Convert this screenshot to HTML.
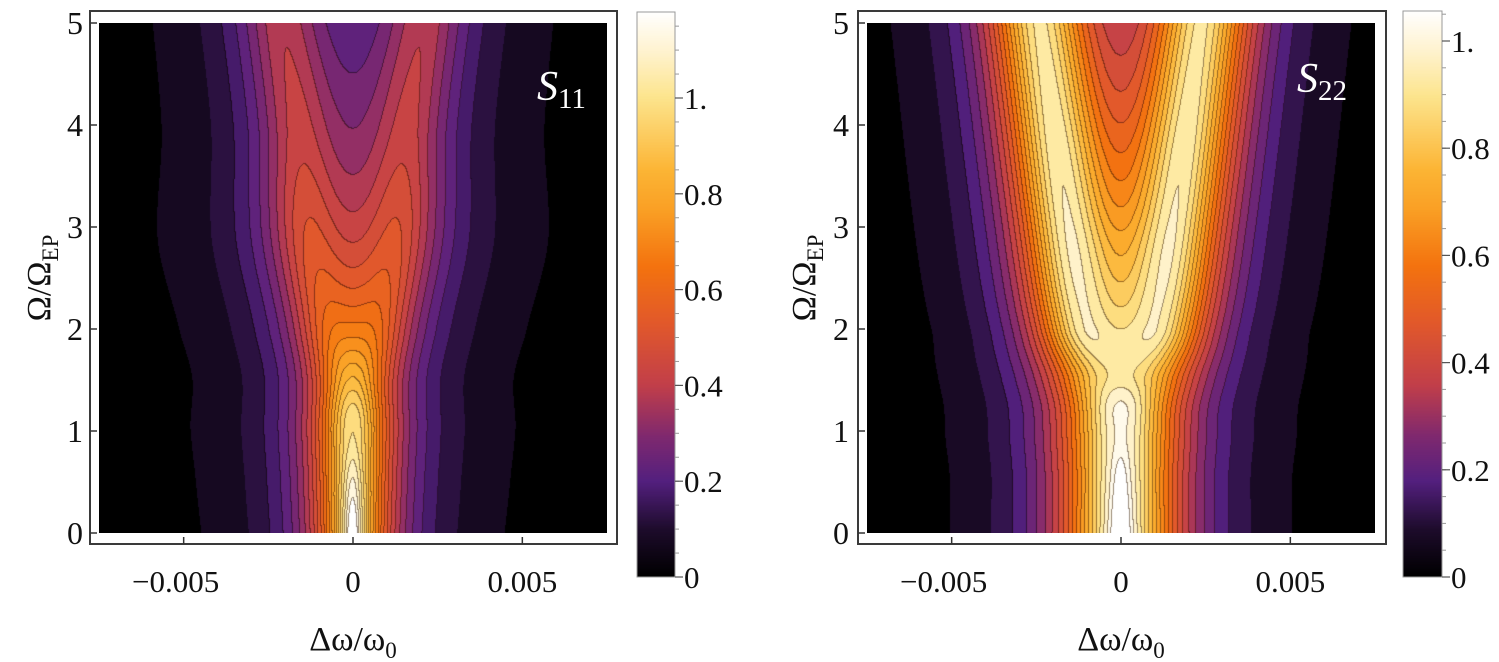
<!DOCTYPE html>
<html><head><meta charset="utf-8">
<style>
html,body{margin:0;padding:0;background:#fff;width:1499px;height:662px;overflow:hidden}
#root{position:relative;width:1499px;height:662px}
canvas{position:absolute;display:block}
svg{position:absolute;left:0;top:0}
text{font-family:"Liberation Serif","Times New Roman",serif;fill:#111}
</style></head>
<body>
<div id="root">
<canvas id="c1" width="508" height="510" style="left:99px;top:23px"></canvas>
<canvas id="c2" width="508" height="510" style="left:867px;top:23px"></canvas>
<canvas id="cb1" width="38" height="565" style="left:637px;top:12px"></canvas>
<canvas id="cb2" width="39" height="566" style="left:1403px;top:11px"></canvas>
<svg id="ov" width="1499" height="662" font-family="Liberation Serif, serif"></svg>
</div>
<script>
// ---- data (x in units of 1e-3 of Δω/ω0) ----
const omegaRows = [0, 0.5, 1, 1.5, 2, 3, 4, 5];
const s11Sep    = [0, 0, 0, 0.3, 0.7, 1.34, 1.65, 2.1];
const s11Width  = [1.05, 1.08, 1.1, 1.13, 1.22, 1.35, 1.35, 1.35];
const s11Amp    = [0.47, 0.48, 0.5, 0.46, 0.445, 0.42, 0.37, 0.36];
const s11Narrow = [0.3, 0.15, 0, 0, 0, 0, 0, 0];
const s11NarrowW= [0.25, 0.3, 0.3, 0.3, 0.3, 0.3, 0.3, 0.3];
const s22Sep    = [0, 0, 0, 0.7, 1.15, 1.6, 2.0, 2.4];
const s22Width  = [2.0, 2.0, 2.05, 2.0, 1.75, 1.75, 1.75, 1.75];
const s22Amp    = [0.5, 0.5, 0.505, 0.55, 0.77, 0.86, 0.88, 0.88];
const s22Narrow = [0.25, 0.12, 0, 0, 0, 0, 0, 0];
const s22NarrowW= [0.2, 0.2, 0.2, 0.2, 0.2, 0.2, 0.2, 0.2];
const s11Max = 1.18, s22Max = 1.056;
const contourStep = 0.05;
const xTicks = [-0.005, 0, 0.005];
const xTickLabels = ["\u22120.005", "0", "0.005"];
const yTicks = [0, 1, 2, 3, 4, 5];
const cbTicks = [0, 0.2, 0.4, 0.6, 0.8, 1.0];
const cbTickLabels = ["0", "0.2", "0.4", "0.6", "0.8", "1."];
const cmapT = [0, 0.085, 0.17, 0.25, 0.34, 0.45, 0.55, 0.65, 0.72, 0.85, 0.93, 1];
const cmapC = ["#000000","#1e0c2c","#54207f","#80296f","#c23f4a","#e2592b","#f4730f","#faa025","#fcb535","#fde58e","#fff3cf","#ffffff"];

function hex(h){return [parseInt(h.substr(1,2),16),parseInt(h.substr(3,2),16),parseInt(h.substr(5,2),16)];}
const cmapRGB = cmapC.map(hex);
function cmap(t){
  if(t<=0) return cmapRGB[0]; if(t>=1) return cmapRGB[cmapRGB.length-1];
  for(let i=1;i<cmapT.length;i++){ if(t<=cmapT[i]){const f=(t-cmapT[i-1])/(cmapT[i]-cmapT[i-1]);const a=cmapRGB[i-1],b=cmapRGB[i];return [a[0]+(b[0]-a[0])*f,a[1]+(b[1]-a[1])*f,a[2]+(b[2]-a[2])*f];}}
  return cmapRGB[cmapRGB.length-1];
}
// smooth (monotone cubic Hermite) interpolation along Ω
function interp(arr, om){
  const n=omegaRows.length;
  if(om<=omegaRows[0]) return arr[0];
  if(om>=omegaRows[n-1]) return arr[n-1];
  let i=1; while(om>omegaRows[i]) i++;
  const x0=omegaRows[i-1],x1=omegaRows[i],h=x1-x0,t=(om-x0)/h;
  const slope=(k)=>{ if(k===0) return (arr[1]-arr[0])/(omegaRows[1]-omegaRows[0]);
    if(k===n-1) return (arr[n-1]-arr[n-2])/(omegaRows[n-1]-omegaRows[n-2]);
    const a=(arr[k]-arr[k-1])/(omegaRows[k]-omegaRows[k-1]), b=(arr[k+1]-arr[k])/(omegaRows[k+1]-omegaRows[k]);
    if(a*b<=0) return 0; return 2/(1/a+1/b); };
  const m0=slope(i-1)*h,m1=slope(i)*h,t2=t*t,t3=t2*t;
  return (2*t3-3*t2+1)*arr[i-1]+(t3-2*t2+t)*m0+(-2*t3+3*t2)*arr[i]+(t3-t2)*m1;
}
function field(x, om, P){
  const d=interp(P.sep,om), w=interp(P.width,om), A=interp(P.amp,om), B=Math.max(0,interp(P.nar,om)), wn=interp(P.narW,om);
  const u1=(x-d)/w, u2=(x+d)/w;
  return A/Math.pow(1+u1*u1,P.pw)+A/Math.pow(1+u2*u2,P.pw)+B/(1+(x/wn)*(x/wn));
}
function drawMap(id, P, vmax){
  const cv=document.getElementById(id), ctx=cv.getContext('2d');
  const W=cv.width,H=cv.height, img=ctx.createImageData(W,H);
  const band=new Int16Array(W*H);
  const kmax=Math.floor(vmax/contourStep);
  for(let py=0;py<H;py++){const om=(H-py-0.5)/H*5;
    for(let px=0;px<W;px++){const x=(px+0.5-254)/254*7.5;
      band[py*W+px]=Math.min(kmax,Math.floor(field(x,om,P)/contourStep));}}
  for(let py=0;py<H;py++)for(let px=0;px<W;px++){
    const k=band[py*W+px];
    let c = k===0?[0,0,0]:(k>=kmax?[255,255,255]:cmap(((k+0.5)*contourStep)/vmax));
    const r=px+1<W?band[py*W+px+1]:k, b=py+1<H?band[(py+1)*W+px]:k;
    if((r!==k||b!==k) && Math.max(k,r,b)>2){c=[c[0]*0.6,c[1]*0.55,c[2]*0.5];}
    const o=(py*W+px)*4; img.data[o]=c[0];img.data[o+1]=c[1];img.data[o+2]=c[2];img.data[o+3]=255;}
  ctx.putImageData(img,0,0);
}
drawMap('c1',{sep:s11Sep,width:s11Width,amp:s11Amp,nar:s11Narrow,narW:s11NarrowW,pw:1},s11Max);
drawMap('c2',{sep:s22Sep,width:s22Width,amp:s22Amp,nar:s22Narrow,narW:s22NarrowW,pw:1.5},s22Max);
function drawBar(id){
  const cv=document.getElementById(id),ctx=cv.getContext('2d');
  for(let y=0;y<cv.height;y++){const t=(cv.height-y)/cv.height;const c=cmap(t);
    ctx.fillStyle=`rgb(${c[0]|0},${c[1]|0},${c[2]|0})`;ctx.fillRect(0,y,cv.width,1);}
}
drawBar('cb1'); drawBar('cb2');

const NS="http://www.w3.org/2000/svg", ov=document.getElementById('ov');
function mk(tag,attrs,txt){const e=document.createElementNS(NS,tag);for(const k in attrs)e.setAttribute(k,attrs[k]);if(txt!==undefined)e.textContent=txt;ov.appendChild(e);return e;}
const plots=[{fx:90,fw:527,cx:353,label:"11",lx:537,ly:100,cbx:637,cbw:38,cb0:577,cbs:479,cbTop:12,vmax:s11Max,ylx:83,tx:38,nm:"s11"},
             {fx:858,fw:528,cx:1121,label:"22",lx:1297,ly:92,cbx:1403,cbw:39,cb0:577,cbs:536,cbTop:11,vmax:s22Max,ylx:849,tx:803,nm:"s22"}];
const yPx = v => 533 - v/5*510;
plots.forEach(p=>{
  let e=mk('rect',{x:p.fx,y:11,width:p.fw,height:533,fill:'none',stroke:'#3a3a3a','stroke-width':2});
   
  xTicks.forEach((v,i)=>{const X=p.cx+v/0.0075*254;
    e=mk('line',{x1:X,x2:X,y1:544,y2:537,stroke:'#333','stroke-width':1.5});
     
    e=mk('text',{x:X-(v<0?8:0),y:592,'text-anchor':'middle','font-size':31},xTickLabels[i]);
     });
  yTicks.forEach(v=>{const Y=yPx(v);
    e=mk('line',{x1:p.fx,x2:p.fx+7,y1:Y,y2:Y,stroke:'#333','stroke-width':1.5});
     
    e=mk('text',{x:p.ylx,y:Y+11,'text-anchor':'end','font-size':32},String(v));
     });
  e=mk('text',{x:p.cx,y:650,'text-anchor':'middle','font-size':34});
  e.innerHTML='Δω/ω<tspan font-size="23" dy="8">0</tspan>';
   
  e=mk('text',{x:0,y:0,'text-anchor':'middle','font-size':34,transform:`translate(${p.tx+12},278) rotate(-90)`});
  e.innerHTML='Ω/Ω<tspan font-size="23" dy="8">EP</tspan>';
   
  e=mk('text',{x:p.lx,y:p.ly,'font-size':42});
  e.innerHTML='<tspan font-style="italic" style="fill:#fff">S</tspan><tspan font-size="29" dy="8" style="fill:#fff">'+p.label+'</tspan>';
   
  e=mk('rect',{x:p.cbx,y:p.cbTop,width:p.cbw,height:p.cb0-p.cbTop,fill:'none',stroke:'#999','stroke-width':1});
   
  for(let v=0; v<=p.vmax+1e-9; v+=0.05){const Y=p.cb0-v*p.cbs;
    e=mk('line',{x1:p.cbx+p.cbw,x2:p.cbx+p.cbw+4,y1:Y,y2:Y,stroke:'#999','stroke-width':1});
     }
  cbTicks.forEach((v,i)=>{const Y=p.cb0-v*p.cbs;
    e=mk('line',{x1:p.cbx+p.cbw,x2:p.cbx+p.cbw+8,y1:Y,y2:Y,stroke:'#555','stroke-width':1.2});
     
    e=mk('text',{x:p.cbx+p.cbw+9,y:Y+11,'font-size':31},cbTickLabels[i]);
     });
});
</script>
</body></html>
